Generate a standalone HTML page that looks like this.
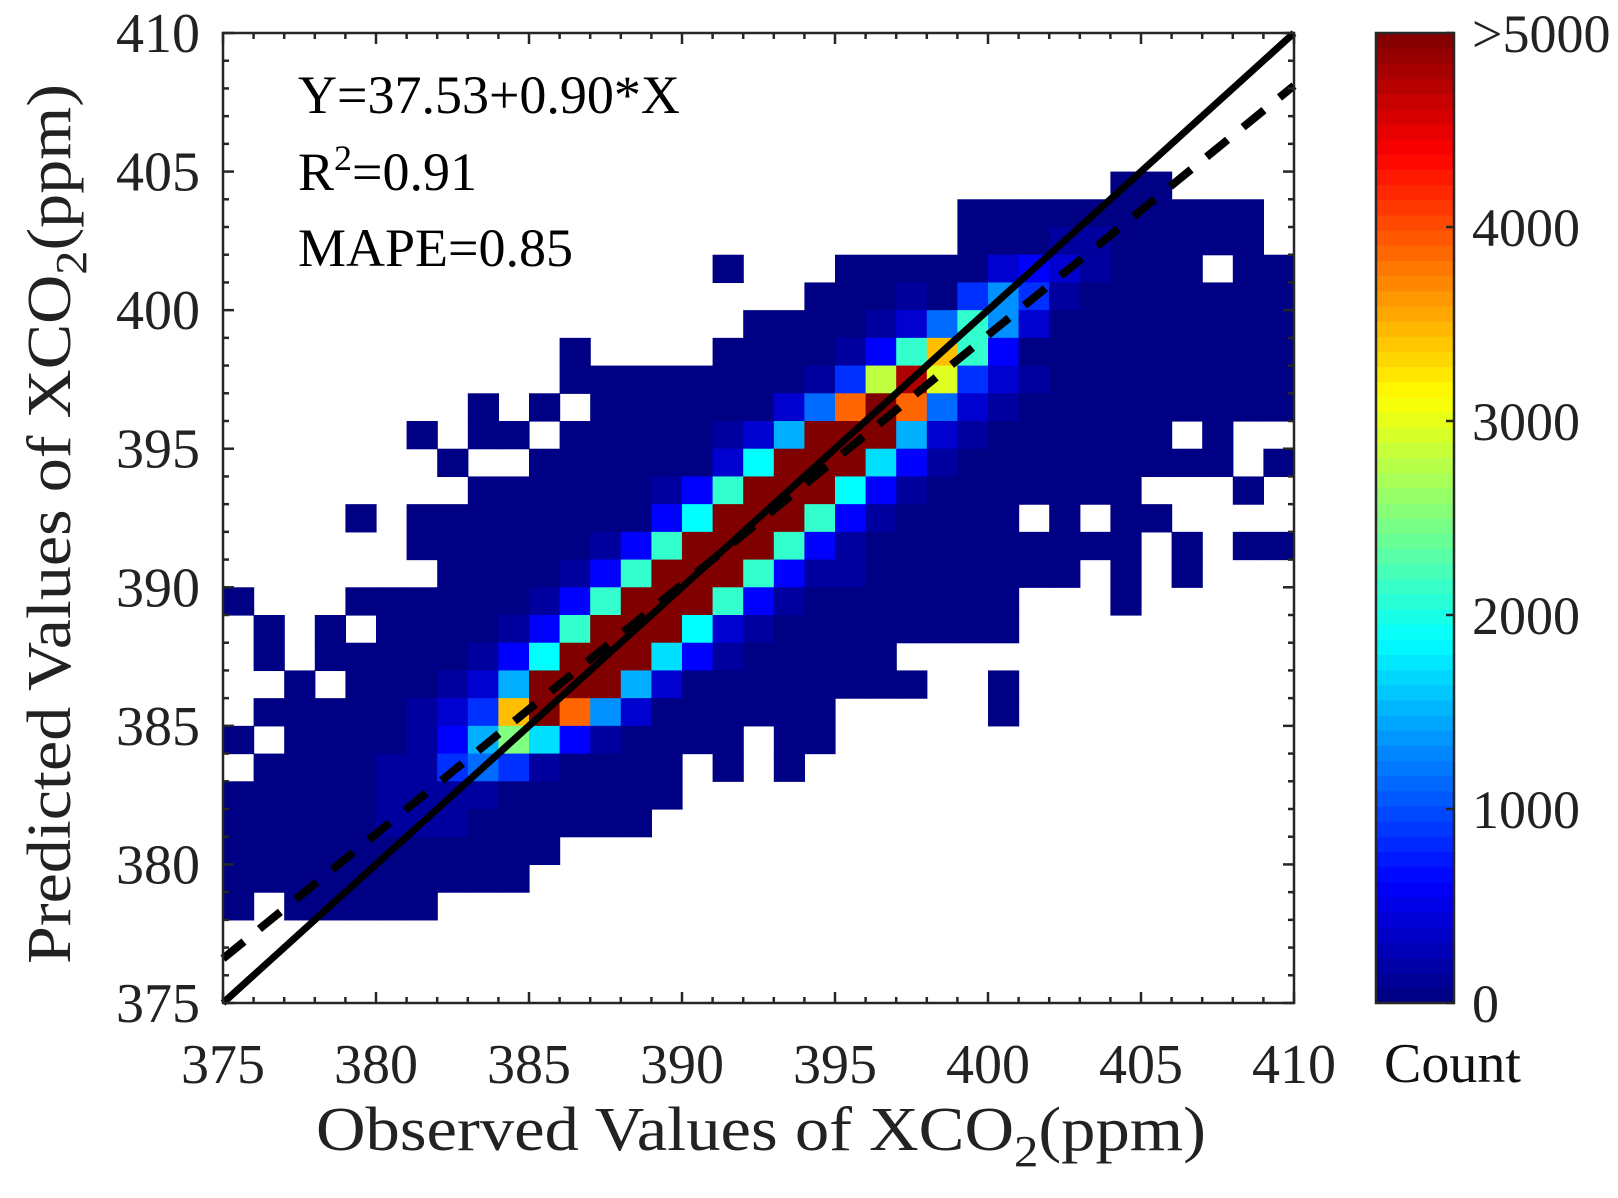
<!DOCTYPE html>
<html><head><meta charset="utf-8"><style>
html,body{margin:0;padding:0;background:#fff;}
svg{display:block;font-family:"Liberation Serif",serif;}
</style></head><body>
<svg id="chart" width="1618" height="1198" viewBox="0 0 1618 1198" xmlns="http://www.w3.org/2000/svg">
<g id="cells"></g>
<g id="lines"></g>
<g id="axes"></g>
<g id="cbar"></g>
<g fill="#000" font-size="54">
<text x="298" y="113">Y=37.53+0.90*X</text>
<text x="298" y="190">R<tspan dy="-20" font-size="36">2</tspan><tspan dy="20">=0.91</tspan></text>
<text x="298" y="266">MAPE=0.85</text>
</g>
<text x="316" y="1150" font-size="62" textLength="890" lengthAdjust="spacingAndGlyphs" fill="#222">Observed Values of XCO<tspan dy="16" font-size="44">2</tspan><tspan dy="-16">(ppm)</tspan></text>
<text transform="translate(70,964) rotate(-90)" x="0" y="0" font-size="62" textLength="880" lengthAdjust="spacingAndGlyphs" fill="#222">Predicted Values of XCO<tspan dy="16" font-size="44">2</tspan><tspan dy="-16">(ppm)</tspan></text>
<text x="1384" y="1082" font-size="56" fill="#111">Count</text>
</svg>
<script>
// ---- data ----
const xMin = 375, xMax = 410, yMin = 375, yMax = 410;
const xTicks = [375, 380, 385, 390, 395, 400, 405, 410];
const yTicks = [375, 380, 385, 390, 395, 400, 405, 410];
const cbTicks = [0, 1000, 2000, 3000, 4000, 5000];
const cbTickLabels = ["0", "1000", "2000", "3000", "4000", ">5000"];
const levelCodes = ["a","b","c","d","e","f","F","g","h","H","i","j","k","l","m","n","o","R"];
const levelCounts = [20,150,400,620,860,1150,1330,1490,1720,1875,2120,2500,2810,2970,3440,3880,4770,5000];
// rows from top (409-410) to bottom (375-376); columns 375-376 ... 409-410
const gridRows = [
"...................................",
"...................................",
"...................................",
"...................................",
"...................................",
".............................aa....",
"........................aaaaaaaaaa.",
"........................aaabbaaaaa.",
"................a...aaaaacdcbaaa.aa",
"...................aaabaeFebaaaaaaa",
".................aaaabcfiFcaaaaaaaa",
"...........a....aaaabdimidaaaaaaaaa",
"...........aaaaaaaabekolecbaaaaaaaa",
"........a.a.aaaaaacfnRnfcbaaaaaaaaa",
"......a.aa.aaaaabcgRRRgcbaaaaaa.a..",
".......a..aaaaaacHRRRhdbaaaaaaaaa.a",
"........aaaaaabdiRRRHdbaaaaaaa...a.",
"....a.aaaaaaaadHRRRidbaaaa.a.aa....",
"......aaaaaabdiRRRidbaaaaaaaaa.a.aa",
".......aaaabdiRRRidbbaaaaaaa.a.a...",
"a...aaaaaabdiRRRidbaaaaaaa...a.....",
".a.a.aaaabdiRRRHcbaaaaaaaa.........",
".a.aaaaabdHRRRhdbaaaaa.............",
"..a.aaabcgRRRgcaaaaaaaa..a.........",
".aaaaabcemRnFcaaaaaa.....a.........",
"a.aaaabdgjhdbaaaa.aa...............",
".aaaabbefebaaaa.a.a................",
"aaaaabbbbaaaaaa....................",
"aaaaabbbaaaaaa.....................",
"aaaaaaaaaaa........................",
"aaaaaaaaaa.........................",
"a.aaaaa............................",
"...................................",
"...................................",
"..................................."
];
const identitySlope = 1, identityIntercept = 0;
const fitSlope = 0.90, fitIntercept = 39.1;

// ---- scales ----
const PL = 223, PR = 1294, PT = 33, PB = 1003;
const xs = v => PL + (v - xMin) * (PR - PL) / (xMax - xMin);
const ys = v => PB - (v - yMin) * (PB - PT) / (yMax - yMin);
const cbMax = 5000;
const CBL = 1376, CBR = 1454;
const cs = v => PB - v / cbMax * (PB - PT);
const NS = "http://www.w3.org/2000/svg";
function mk(tag, attrs, parent){ const e = document.createElementNS(NS, tag); for (const k in attrs) e.setAttribute(k, attrs[k]); parent.appendChild(e); return e; }
function jet(t){
  t = Math.max(0, Math.min(1, t));
  const f = (x) => Math.max(0, Math.min(1, x));
  const r = f(Math.min(4*t - 1.5, -4*t + 4.5));
  const g = f(Math.min(4*t - 0.5, -4*t + 3.5));
  const b = f(Math.min(4*t + 0.5, -4*t + 2.5));
  return `rgb(${Math.round(r*255)},${Math.round(g*255)},${Math.round(b*255)})`;
}

// ---- cells ----
const cellG = document.getElementById('cells');
gridRows.forEach((row, r) => {
  for (let c = 0; c < row.length; c++) {
    const ch = row[c];
    if (ch === '.') continue;
    const count = levelCounts[levelCodes.indexOf(ch)];
    const x0 = xs(xMin + c), x1 = xs(xMin + c + 1);
    const y1 = ys(yMax - r), y0 = ys(yMax - r - 1);
    const rect = mk('rect', {x: x0, y: y1, width: x1 - x0 + 0.6, height: y0 - y1 + 0.6, fill: jet(count / cbMax)}, cellG);
    
    
  }
});

// ---- lines ----
const lineG = document.getElementById('lines');
const idl = mk('line', {x1: xs(xMin), y1: ys(identityIntercept + identitySlope*xMin), x2: xs(xMax), y2: ys(identityIntercept + identitySlope*xMax), stroke: '#000', 'stroke-width': 7}, lineG);


const fl = mk('line', {x1: xs(xMin), y1: ys(fitIntercept + fitSlope*xMin), x2: xs(xMax), y2: ys(fitIntercept + fitSlope*xMax), stroke: '#000', 'stroke-width': 8, 'stroke-dasharray': '27 20'}, lineG);



// ---- axes ----
const ax = document.getElementById('axes');
const frame = mk('rect', {x: PL, y: PT, width: PR - PL, height: PB - PT, fill: 'none', stroke: '#262626', 'stroke-width': 2.5}, ax);


for (let v = xMin; v <= xMax; v++) {
  const major = (v % 5 === 0), L = major ? 11 : 6, x = xs(v);
  const t1 = mk('line', {x1: x, y1: PB, x2: x, y2: PB - L, stroke: '#262626', 'stroke-width': 2.5}, ax);
  
  
  const t2 = mk('line', {x1: x, y1: PT, x2: x, y2: PT + L, stroke: '#262626', 'stroke-width': 2.5}, ax);
  
  
}
for (let v = yMin; v <= yMax; v++) {
  const major = (v % 5 === 0), L = major ? 11 : 6, y = ys(v);
  const t1 = mk('line', {x1: PL, y1: y, x2: PL + L, y2: y, stroke: '#262626', 'stroke-width': 2.5}, ax);
  
  
  const t2 = mk('line', {x1: PR, y1: y, x2: PR - L, y2: y, stroke: '#262626', 'stroke-width': 2.5}, ax);
  
  
}
xTicks.forEach(v => {
  const t = mk('text', {x: xs(v), y: 1083, 'font-size': 56, 'text-anchor': 'middle', fill: '#222'}, ax);
  t.textContent = v;
  
  
});
yTicks.forEach(v => {
  const t = mk('text', {x: 200, y: ys(v) + 19, 'font-size': 56, 'text-anchor': 'end', fill: '#222'}, ax);
  t.textContent = v;
  
  
});

// ---- colorbar ----
const cb = document.getElementById('cbar');
const nSteps = 64;
for (let i = 0; i < nSteps; i++) {
  const v0 = i * cbMax / nSteps, v1 = (i + 1) * cbMax / nSteps;
  const r = mk('rect', {x: CBL, y: cs(v1), width: CBR - CBL, height: cs(v0) - cs(v1) + 0.6, fill: jet((i + 0.5) / nSteps)}, cb);
  
  
}
const cbf = mk('rect', {x: CBL, y: PT, width: CBR - CBL, height: PB - PT, fill: 'none', stroke: '#262626', 'stroke-width': 2.5}, cb);


cbTicks.forEach((v, i) => {
  const tk = mk('line', {x1: CBR, y1: cs(v), x2: CBR - 8, y2: cs(v), stroke: '#262626', 'stroke-width': 2.5}, cb);
  
  
  const t = mk('text', {x: 1472, y: cs(v) + 19, 'font-size': 54, fill: '#222'}, cb);
  t.textContent = cbTickLabels[i];
  
  
});
</script>
</body></html>
